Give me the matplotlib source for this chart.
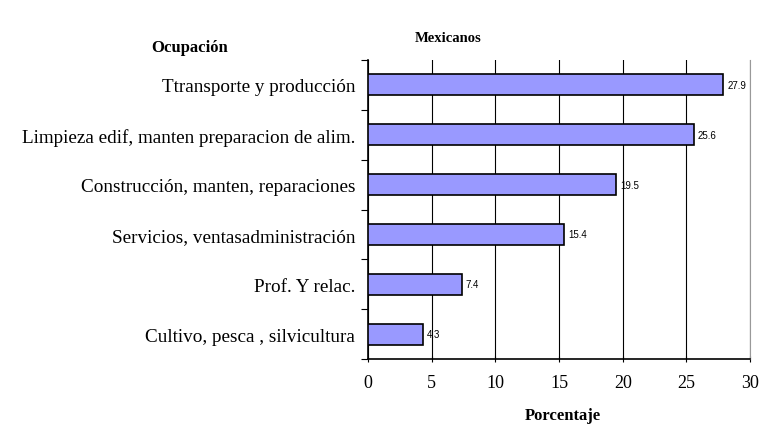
import matplotlib.pyplot as plt

# datos
ocupaciones = ['Ttransporte y producción',
               'Limpieza edif, manten preparacion de alim.',
               'Construcción, manten, reparaciones',
               'Servicios, ventasadministración',
               'Prof. Y relac.',
               'Cultivo, pesca , silvicultura']
porcentaje = [27.9, 25.6, 19.5, 15.4, 7.4, 4.3]
xticks = [0, 5, 10, 15, 20, 25, 30]

plt.rcParams['font.family'] = ['Liberation Serif', 'DejaVu Serif']

fig = plt.figure(figsize=(7.6, 4.35), dpi=100)
ax = fig.add_axes([0.484, 0.172, 0.503, 0.688])

pos = list(range(len(ocupaciones)))
bars = ax.barh(pos, porcentaje, height=0.42, color='#9999ff',
               edgecolor='black', linewidth=1.2, zorder=3)
ax.set_ylim(len(ocupaciones) - 0.5, -0.5)
ax.set_xlim(0, 30)

for b, v in zip(bars, porcentaje):
    ax.text(b.get_width() + 0.3, b.get_y() + b.get_height() / 2, f'{v}',
            va='center', ha='left', fontsize=7, family='Liberation Sans', zorder=4)

ax.set_xticks(xticks)
ax.xaxis.grid(True, color='black', linewidth=0.8, zorder=0)
ax.tick_params(axis='x', labelsize=13, length=4, direction='inout', pad=9)

# ticks de categoria en los bordes
ax.set_yticks([p + 0.5 for p in [-1] + pos])
ax.set_yticklabels([])
ax.set_yticks(pos, minor=True)
ax.set_yticklabels(ocupaciones, minor=True, fontsize=13.8)
ax.tick_params(axis='y', which='major', length=5, direction='out')
ax.tick_params(axis='y', which='minor', length=0, pad=9)

ax.spines['top'].set_visible(False)
ax.spines['right'].set_color('#999999')
ax.spines['left'].set_linewidth(1.2)
ax.spines['bottom'].set_linewidth(1.2)

fig.text(0.589, 0.912, 'Mexicanos', ha='center', va='center', fontsize=10.5, weight='bold')
fig.text(0.25, 0.89, 'Ocupación', ha='center', va='center', fontsize=12, weight='bold')
fig.text(0.74, 0.044, 'Porcentaje', ha='center', va='center', fontsize=12, weight='bold')

fig.savefig('out.png', dpi=100)
